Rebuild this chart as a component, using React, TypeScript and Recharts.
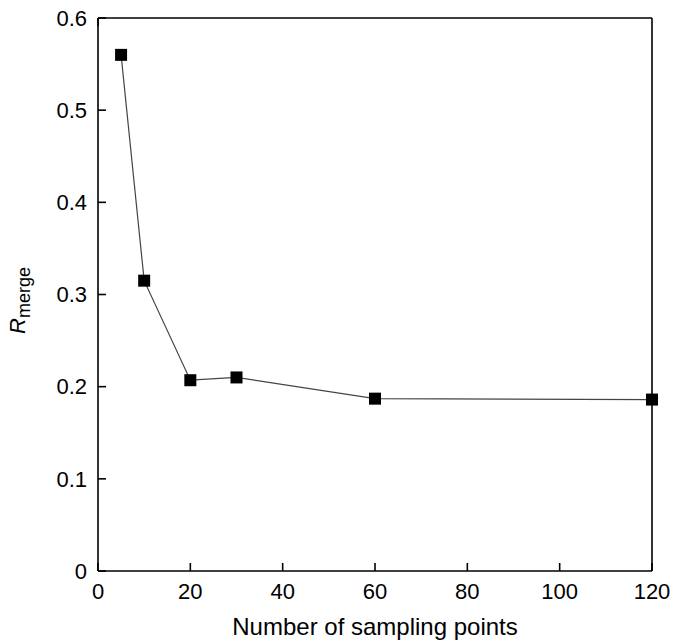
import { Label, Line, LineChart, XAxis, YAxis } from 'recharts'

const samplingPoints = [5, 10, 20, 30, 60, 120]
const rMerge = [0.56, 0.315, 0.207, 0.21, 0.187, 0.186]
const xTicks = [0, 20, 40, 60, 80, 100, 120]
const yTicks = [0, 0.1, 0.2, 0.3, 0.4, 0.5, 0.6]

const data = samplingPoints.map((n, i) => ({ n, r: rMerge[i] }))

const FONT = '"Liberation Sans", Arial, Helvetica, sans-serif'
const axisStroke = { stroke: '#000', strokeWidth: 1.6 }

function SquareDot(props: any) {
  const { cx, cy, index } = props
  if (cx == null || cy == null) return null
  return <rect key={`dot-${index}`} x={cx - 6} y={cy - 6} width={12} height={12} fill="#000" />
}

// rotated R_merge title, placed from the y axis viewBox
function YLabel(props: any) {
  const vb = props.viewBox || {}
  const x0 = Number(vb.x) || 0
  const y0 = Number(vb.y) || 18
  const h = Number(vb.height) || 553
  const cx = x0 + 25
  const cy = y0 + h / 2 + 6
  return (
    <g transform={`translate(${cx}, ${cy}) rotate(-90)`}>
      <text x={0} y={0} textAnchor="middle" fill="#000" fontFamily={FONT}>
        <tspan fontStyle="italic" fontSize={22}>R</tspan>
        <tspan fontSize={18} dy={5}>merge</tspan>
      </text>
    </g>
  )
}

export default function App() {
  return (
    <div style={{ position: 'absolute', left: 0, top: 0, fontFamily: FONT }}>
      <LineChart width={674} height={642} data={data} margin={{ top: 0, right: 0, bottom: 0, left: 0 }}>
        <XAxis
          dataKey="n"
          type="number"
          domain={[0, 120]}
          ticks={xTicks}
          height={71}
          axisLine={axisStroke}
          tickLine={axisStroke}
          tickSize={-8}
          tickMargin={20}
          tick={{ fill: '#000', fontSize: 22, fontFamily: FONT }}
        >
          <Label
            value="Number of sampling points"
            position="insideBottom"
            offset={7}
            style={{ fill: '#000', fontSize: 24, fontFamily: FONT }}
          />
        </XAxis>
        <XAxis
          xAxisId="top"
          orientation="top"
          type="number"
          domain={[0, 120]}
          ticks={xTicks}
          height={18}
          axisLine={axisStroke}
          tickLine={axisStroke}
          tickSize={-8}
          tickFormatter={() => ''}
        />
        <YAxis
          type="number"
          domain={[0, 0.6]}
          ticks={yTicks}
          width={98}
          axisLine={axisStroke}
          tickLine={axisStroke}
          tickSize={-8}
          tickMargin={19}
          tickFormatter={(v: number) => String(v)}
          tick={{ fill: '#000', fontSize: 22, fontFamily: FONT }}
        >
          <Label content={<YLabel />} />
        </YAxis>
        <YAxis
          yAxisId="right"
          orientation="right"
          type="number"
          domain={[0, 0.6]}
          ticks={yTicks}
          width={22}
          axisLine={axisStroke}
          tickLine={axisStroke}
          tickSize={-8}
          tickFormatter={() => ''}
        />
        <Line
          dataKey="r"
          stroke="#444"
          strokeWidth={1.2}
          dot={<SquareDot />}
          activeDot={false}
          isAnimationActive={false}
        />
      </LineChart>
    </div>
  )
}
